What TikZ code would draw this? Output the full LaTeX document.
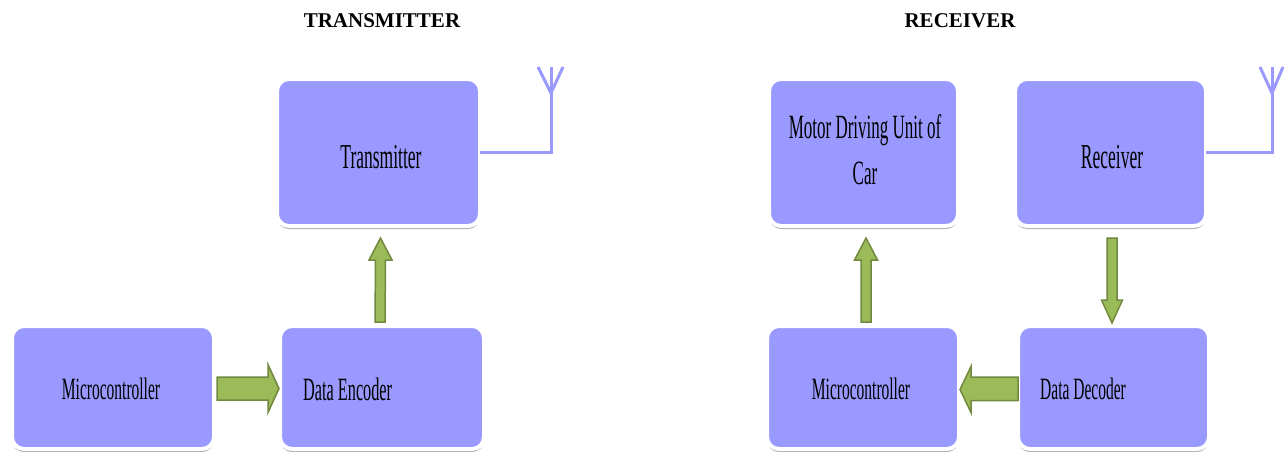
\documentclass[tikz,border=0pt]{standalone}
\usepackage{fontspec}
\setmainfont{Liberation Serif}
\newfontfamily\condfont[FakeStretch=0.5]{Liberation Serif}
\usetikzlibrary{shadows,calc}
\definecolor{boxfill}{RGB}{153,153,255}
\definecolor{arrfill}{RGB}{155,187,89}
\definecolor{arrdraw}{RGB}{113,137,63}
\tikzset{
  blk/.style={rectangle, fill=boxfill, draw=white, line width=4pt, rounded corners=12pt,
    outer sep=0pt, inner sep=0pt,
    drop shadow={shadow xshift=0pt, shadow yshift=-3pt, opacity=0.6, fill=black!55}},
  lbl/.style={font=\condfont\fontsize{31}{46}\selectfont, inner sep=0pt},
  lblbig/.style={font=\condfont\fontsize{35}{46}\selectfont, inner sep=0pt},
  ttl/.style={font=\bfseries\fontsize{21}{24}\selectfont, inner sep=0pt},
  barrow/.style={fill=arrfill, draw=arrdraw, line width=1.5pt, line join=miter},
  ant/.style={draw=boxfill, line width=3pt, line join=miter}
}
\begin{document}
\begin{tikzpicture}[x=1pt,y=-1pt]
\useasboundingbox[fill=white] (0,0) rectangle (1287,452);
% titles
\node[ttl] (t1) at (382,21) {TRANSMITTER};
\node[ttl] (t2) at (960,21) {RECEIVER};
% boxes
\node[blk, minimum width=203pt, minimum height=147pt] (tx) at (378.5,152.5) {};
\node[blk, minimum width=191pt, minimum height=147pt] (rx) at (1110.5,152.5) {};
\node[blk, minimum width=189pt, minimum height=147pt] (mot) at (863.5,152.5) {};
\node[blk, minimum width=202pt, minimum height=123pt] (mct) at (113,387.5) {};
\node[blk, minimum width=204pt, minimum height=123pt] (de) at (382,387.5) {};
\node[blk, minimum width=192pt, minimum height=123pt] (mcr) at (863,387.5) {};
\node[blk, minimum width=191pt, minimum height=123pt] (dd) at (1113.5,387.5) {};
% labels
\node[lblbig] (ltx) at (381,157) {Transmitter};
\node[lblbig] (lrx) at (1112,157) {Receiver};
\node[lbl, align=center, font=\condfont\fontsize{34}{46}\selectfont] (lmot) at (865,150) {Motor Driving Unit of\\Car};
\node[lbl] (lmct) at (111,389) {Microcontroller};
\node[lbl] (lmcr) at (861,389) {Microcontroller};
\node[lbl, anchor=west, font=\condfont\fontsize{32.5}{46}\selectfont] (lde) at (303,389) {Data Encoder};
\node[lbl, anchor=west] (ldd) at (1040,389) {Data Decoder};
% antennas
\coordinate (ta) at (551,67);
\coordinate (ra) at (1272,67);
\draw[ant] (tx.east) -- (tx.east -| ta) -- (ta);
\draw[ant] ($(ta)+(-13,0)$) -- ($(ta)+(0,26)$) -- ($(ta)+(12,0)$);
\draw[ant] (rx.east) -- (rx.east -| ra) -- (ra);
\draw[ant] ($(ra)+(-12,0)$) -- ($(ra)+(0,26)$) -- ($(ra)+(11,0)$);
% arrows
% microcontroller -> data encoder (right)
\draw[barrow] ($(mct.east)+(3,-10.5)$) -- ($(de.west)+(-12,-10.5)$) -- ($(de.west)+(-12,-23)$)
  -- ($(de.west)+(-1,1)$) -- ($(de.west)+(-12,25)$) -- ($(de.west)+(-12,12.5)$)
  -- ($(mct.east)+(3,12.5)$) -- cycle;
% data encoder -> transmitter (up)
\coordinate (a1b) at ($(de.north)+(-2,-4)$);
\coordinate (a1t) at ($(tx.south)+(2,12)$);
\draw[barrow] ($(a1b)+(-5,0)$) -- ($(a1t)+(-5,22)$) -- ($(a1t)+(-11.5,22)$) -- (a1t)
  -- ($(a1t)+(11.5,22)$) -- ($(a1t)+(5,22)$) -- ($(a1b)+(5,0)$) -- cycle;
% microcontroller -> motor (up)
\coordinate (a2b) at ($(mcr.north)+(3,-4)$);
\coordinate (a2t) at ($(mot.south)+(2.5,12)$);
\draw[barrow] ($(a2b)+(-5,0)$) -- ($(a2t)+(-5,22)$) -- ($(a2t)+(-11.5,22)$) -- (a2t)
  -- ($(a2t)+(11.5,22)$) -- ($(a2t)+(5,22)$) -- ($(a2b)+(5,0)$) -- cycle;
% receiver -> data decoder (down)
\coordinate (a3t) at ($(rx.south)+(1.5,12)$);
\coordinate (a3b) at ($(dd.north)+(-1.5,-3)$);
\draw[barrow] ($(a3t)+(-5,0)$) -- ($(a3b)+(-5,-23)$) -- ($(a3b)+(-10.5,-23)$) -- (a3b)
  -- ($(a3b)+(10.5,-23)$) -- ($(a3b)+(5,-23)$) -- ($(a3t)+(5,0)$) -- cycle;
% data decoder -> microcontroller (left)
\draw[barrow] ($(dd.west)+(0,-10.5)$) -- ($(mcr.east)+(12,-10.5)$) -- ($(mcr.east)+(12,-21)$)
  -- ($(mcr.east)+(1,2)$) -- ($(mcr.east)+(12,25)$) -- ($(mcr.east)+(12,13)$)
  -- ($(dd.west)+(0,13)$) -- cycle;
\end{tikzpicture}
\end{document}
